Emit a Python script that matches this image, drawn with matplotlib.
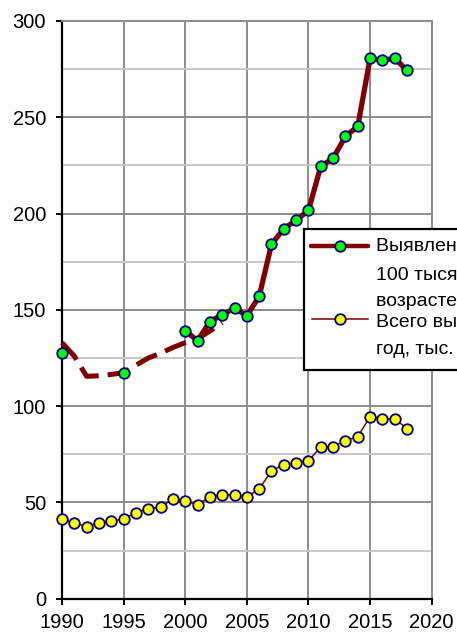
import matplotlib
matplotlib.use('Agg')
import matplotlib.pyplot as plt
from matplotlib.lines import Line2D
from matplotlib.patches import Rectangle
from matplotlib.ticker import MultipleLocator

# rate per 100k (green markers), 1990 and 1995 stand alone
rate_years = [1990, 1995, 2000, 2001, 2002, 2003, 2004, 2005, 2006, 2007, 2008,
              2009, 2010, 2011, 2012, 2013, 2014, 2015, 2016, 2017, 2018]
rate_vals = [127.8, 117.2, 139.2, 134.0, 143.9, 147.5, 150.8, 147.0, 157.0, 184.0,
             192.2, 196.5, 201.7, 224.6, 228.7, 240.1, 245.3, 280.6, 279.6, 280.6, 274.4]

# dashed trend for the early years
trend_years = [1990, 1991, 1992, 1993, 1994, 1995, 1996, 1997, 1998, 1999, 2000,
               2001, 2002, 2003]
trend_vals = [133.0, 126.0, 115.5, 115.8, 116.5, 117.4, 121.3, 125.0, 127.5, 130.5,
              133.0, 135.0, 139.0, 143.3]

# total detected per year, thousands (yellow markers)
total_years = list(range(1990, 2019))
total_vals = [41.3, 39.5, 37.3, 39.5, 40.4, 41.4, 44.7, 46.8, 47.7, 51.8, 50.8, 48.9,
              53.0, 53.9, 53.9, 52.9, 57.0, 66.5, 69.6, 70.7, 71.5, 79.0, 79.0, 82.1,
              84.2, 94.6, 93.5, 93.5, 88.3]

# legend text runs past the right edge in the original, so it is cut there too
legend_rate = ["Выявлено на", "100 тысяч населения в", "возрасте 15-49 лет"]
legend_total = ["Всего выявлено за", "год, тыс."]

MAROON = '#800000'
NAVY = '#000080'
GRID = '#8c8c8c'
GRID_MINOR = '#c8c8c8'

W, H = 457, 632
plt.rcParams['font.family'] = ['Liberation Sans', 'DejaVu Sans']

fig = plt.figure(figsize=(W / 100, H / 100), dpi=100)
x0, x1, y0, y1 = 62, 431.7, 21, 598.8
ax = fig.add_axes([x0 / W, 1 - y1 / H, (x1 - x0) / W, (y1 - y0) / H])

ax.set_xlim(1990, 2020)
ax.set_ylim(0, 300)
ax.xaxis.set_major_locator(MultipleLocator(5))
ax.yaxis.set_major_locator(MultipleLocator(50))
ax.yaxis.set_minor_locator(MultipleLocator(25))

ax.grid(True, which='major', color=GRID, lw=1.4)
ax.grid(True, which='minor', axis='y', color=GRID_MINOR, lw=1.4)
ax.set_axisbelow(True)

for side in ['top', 'right']:
    ax.spines[side].set_color(GRID)
    ax.spines[side].set_linewidth(1.4)
for side in ['left', 'bottom']:
    ax.spines[side].set_color('black')
    ax.spines[side].set_linewidth(1.6)

ax.tick_params(axis='both', which='major', direction='out', length=4.5, width=1.4,
               labelsize=14.5, colors='black')
ax.tick_params(axis='y', which='major', pad=7)
ax.tick_params(axis='x', which='major', pad=6)
ax.tick_params(axis='y', which='minor', length=0)

# dashed trend
ax.plot(trend_years, trend_vals, color=MAROON, lw=3.6, linestyle=(0, (4.5, 1.8)),
        dash_capstyle='butt', zorder=3, clip_on=False)

# thick solid line from 2000 on
i0 = rate_years.index(2000)
ax.plot(rate_years[i0:], rate_vals[i0:], color=MAROON, lw=3.8,
        solid_joinstyle='round', solid_capstyle='round', zorder=4)
ax.plot(rate_years, rate_vals, linestyle='none', marker='o', ms=7.6,
        mfc='#00ff00', mec=NAVY, mew=1.3, zorder=6, clip_on=False)

# thin line with yellow markers
ax.plot(total_years, total_vals, color=MAROON, lw=1.1, marker='o', ms=7.6,
        mfc='#ffff00', mec=NAVY, mew=1.3, zorder=5, clip_on=False)


def fx(px):
    return px / W


def fy(py):
    return 1 - py / H


# legend box, running past the right edge like the original
box = Rectangle((fx(304), fy(370)), fx(200), fy(229) - fy(370),
                transform=fig.transFigure, facecolor='white', edgecolor='black',
                lw=1.6, zorder=10)
fig.patches.append(box)

fig.lines.append(Line2D([fx(311), fx(368)], [fy(246), fy(246)], color=MAROON,
                        lw=3.2, solid_capstyle='round', transform=fig.transFigure,
                        zorder=11))
fig.lines.append(Line2D([fx(339.5)], [fy(246)], linestyle='none', marker='o',
                        ms=7.6, mfc='#00ff00', mec=NAVY, mew=1.3,
                        transform=fig.transFigure, zorder=12))
fig.lines.append(Line2D([fx(312), fx(368)], [fy(319), fy(319)], color=MAROON,
                        lw=1.1, transform=fig.transFigure, zorder=11))
fig.lines.append(Line2D([fx(339.5)], [fy(319)], linestyle='none', marker='o',
                        ms=7.6, mfc='#ffff00', mec=NAVY, mew=1.3,
                        transform=fig.transFigure, zorder=12))

legend_font = ['Liberation Sans Narrow', 'Liberation Sans', 'DejaVu Sans']
for text, base in zip(legend_rate, [251, 280, 306]):
    fig.text(fx(376), fy(base), text, fontsize=14, family=legend_font,
             ha='left', va='baseline', zorder=13)
for text, base in zip(legend_total, [327, 354]):
    fig.text(fx(376), fy(base), text, fontsize=14, family=legend_font,
             ha='left', va='baseline', zorder=13)

fig.savefig('out.png', dpi=100)
